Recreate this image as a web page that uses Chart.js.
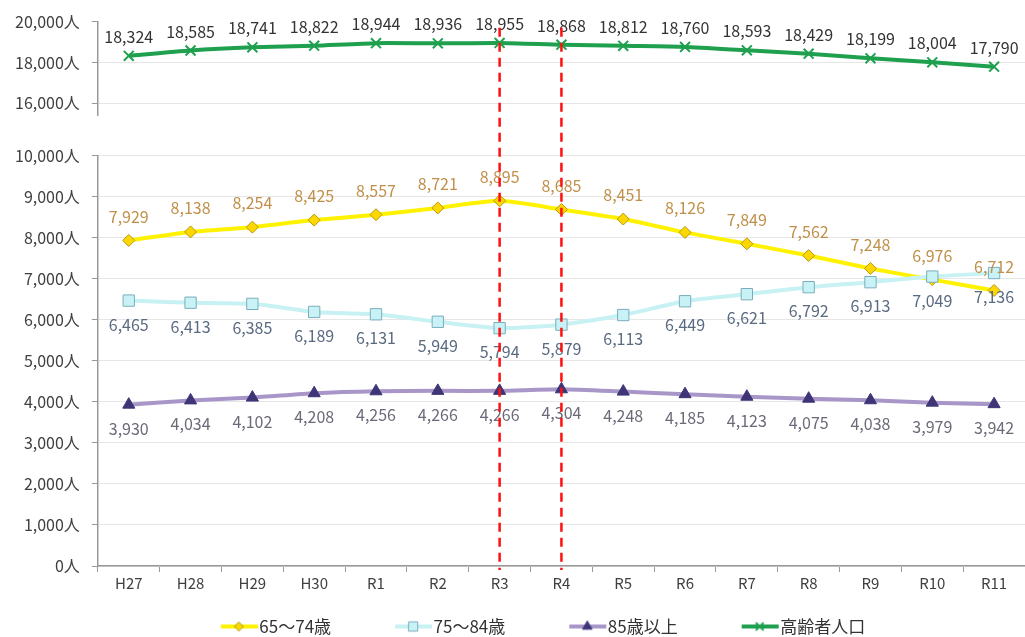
<!DOCTYPE html>
<html><head><meta charset="utf-8">
<script src="https://cdn.jsdelivr.net/npm/chart.js@4.4.1/dist/chart.umd.min.js"></script>
<style>html,body{margin:0;padding:0;background:#fff}#wrap{width:1025px;height:637px}</style>
</head><body><div id="wrap"><canvas id="c" width="1025" height="637"></canvas></div>
<script>
const categories = ['H27','H28','H29','H30','R1','R2','R3','R4','R5','R6','R7','R8','R9','R10','R11'];
const total   = [18324,18585,18741,18822,18944,18936,18955,18868,18812,18760,18593,18429,18199,18004,17790];
const age6574 = [7929,8138,8254,8425,8557,8721,8895,8685,8451,8126,7849,7562,7248,6976,6712];
const age7584 = [6465,6413,6385,6189,6131,5949,5794,5879,6113,6449,6621,6792,6913,7049,7136];
const age85   = [3930,4034,4102,4208,4256,4266,4266,4304,4248,4185,4123,4075,4038,3979,3942];
const lowerTicks = [0,1000,2000,3000,4000,5000,6000,7000,8000,9000,10000];
const upperTicks = [16000,18000,20000];
const markedCats = ['R3','R4'];
const names = ['65〜74歳','75〜84歳','85歳以上','高齢者人口'];

const FONT = "'Noto Sans CJK JP','Noto Sans',sans-serif";
const fmt = v => v.toLocaleString('en-US');

const styles = [
  {line:'#fff200', fill:'#ffd700', border:'#b09a10', ps:'rectRot', r:6, lbl:'#c0904a', off:-24},
  {line:'#c8f1f4', fill:'#c9f2f6', border:'#7aaebc', ps:'rect', r:8, lbl:'#5a6a80', off:24},
  {line:'#a896c8', fill:'#3e3577', border:'#3e3577', ps:'triangle', r:7, lbl:'#6a6a78', off:24},
  {line:'#1ea04e', fill:'#1ea04e', border:'#1ea04e', ps:'crossRot', r:7, lbl:'#333333', off:-19}
];
const series = [age6574, age7584, age85, total];

function legendImg(st){
  const cv = document.createElement('canvas');
  cv.width = 100; cv.height = 18;
  const ctx = cv.getContext('2d');
  ctx.strokeStyle = st.line; ctx.lineWidth = 4;
  ctx.beginPath(); ctx.moveTo(62,9); ctx.lineTo(99,9); ctx.stroke();
  ctx.fillStyle = st.fill; ctx.strokeStyle = st.border;
  ctx.lineWidth = st.ps==='crossRot' ? 2 : 1;
  Chart.helpers.drawPoint(ctx, {pointStyle: st.ps, radius: st.r-1.5, borderWidth: ctx.lineWidth, rotation:0}, 80, 9);
  return cv;
}

const datasets = series.map((d,i)=>({
  label: names[i],
  data: d,
  yAxisID: i===3 ? 'y2' : 'y',
  borderColor: styles[i].line,
  borderWidth: 4,
  backgroundColor: styles[i].fill,
  pointStyle: styles[i].ps,
  pointRadius: styles[i].r,
  pointBackgroundColor: styles[i].fill,
  pointBorderColor: styles[i].border,
  pointBorderWidth: styles[i].ps==='crossRot' ? 2 : 1,
  tension: 0.2,
  order: i===3 ? 4 : 3-i
}));

const labelPlugin = {
  id:'labels',
  afterDatasetsDraw(chart){
    const ctx = chart.ctx;
    ctx.save();
    ctx.font = '16px ' + FONT;
    ctx.textAlign = 'center'; ctx.textBaseline = 'middle';
    chart.data.datasets.forEach((ds, i)=>{
      const meta = chart.getDatasetMeta(i);
      meta.data.forEach((pt, j)=>{
        ctx.fillStyle = styles[i].lbl;
        ctx.fillText(fmt(ds.data[j]), pt.x, pt.y + styles[i].off);
      });
    });
    const x = chart.scales.x, y2 = chart.scales.y2, y = chart.scales.y;
    ctx.strokeStyle = '#ff1010'; ctx.lineWidth = 2.5; ctx.setLineDash([9,6]);
    markedCats.forEach(c=>{
      const px = x.getPixelForValue(categories.indexOf(c));
      ctx.beginPath(); ctx.moveTo(px, y2.getPixelForValue(19700)); ctx.lineTo(px, y.bottom + 4); ctx.stroke();
    });
    ctx.restore();
  }
};

new Chart(document.getElementById('c'), {
  type:'line',
  data:{labels:categories, datasets},
  options:{
    responsive:false, animation:false,
    layout:{autoPadding:false, padding:{left:3, right:-4, top:15, bottom:-8}},
    plugins:{
      legend:{position:'bottom',
        labels:{usePointStyle:true, pointStyleWidth:84, boxHeight:17, padding:10,
          font:{size:17, family:FONT}, color:'#333',
          generateLabels(chart){
            return [0,1,2,3].map(i=>({text:names[i], pointStyle:legendImg(styles[i]), fillStyle:styles[i].fill,
              strokeStyle:styles[i].border, lineWidth:0, hidden:false, datasetIndex:i, fontColor:'#333'}));
          }}},
      tooltip:{enabled:false}
    },
    scales:{
      x:{
        offset:true,
        afterFit(s){ s.height += 14; },
        grid:{display:true, drawOnChartArea:false, offset:true, tickLength:6, tickColor:'#999'},
        border:{color:'#999', width:1.5},
        ticks:{font:{size:15, family:FONT}, color:'#404040', padding:2}
      },
      y:{
        type:'linear', position:'left', stack:'v', stackWeight:411,
        min:0, max:10000,
        afterBuildTicks(s){ s.ticks = lowerTicks.map(v=>({value:v})); },
        grid:{color:'#e6e6e6', tickLength:6, tickColor:'#999'},
        border:{color:'#999', width:1.5},
        ticks:{font:{size:16, family:FONT}, color:'#404040', padding:12, callback:v=>fmt(v)+'人'}
      },
      yGap:{
        type:'linear', position:'left', stack:'v', stackWeight:40, min:0, max:1,
        grid:{display:false}, border:{display:false}, ticks:{display:false}
      },
      y2:{
        type:'linear', position:'left', stack:'v', stackWeight:94,
        min:15400, max:20000,
        afterBuildTicks(s){ s.ticks = upperTicks.map(v=>({value:v})); },
        grid:{color:ctx=> (ctx.tick && ctx.tick.value===20000) ? 'rgba(0,0,0,0)' : '#e6e6e6', tickLength:6, tickColor:'#999'},
        border:{color:'#999', width:1.5},
        ticks:{font:{size:16, family:FONT}, color:'#404040', padding:12, callback:v=>fmt(v)+'人'}
      }
    }
  },
  plugins:[labelPlugin]
});
</script></body></html>
